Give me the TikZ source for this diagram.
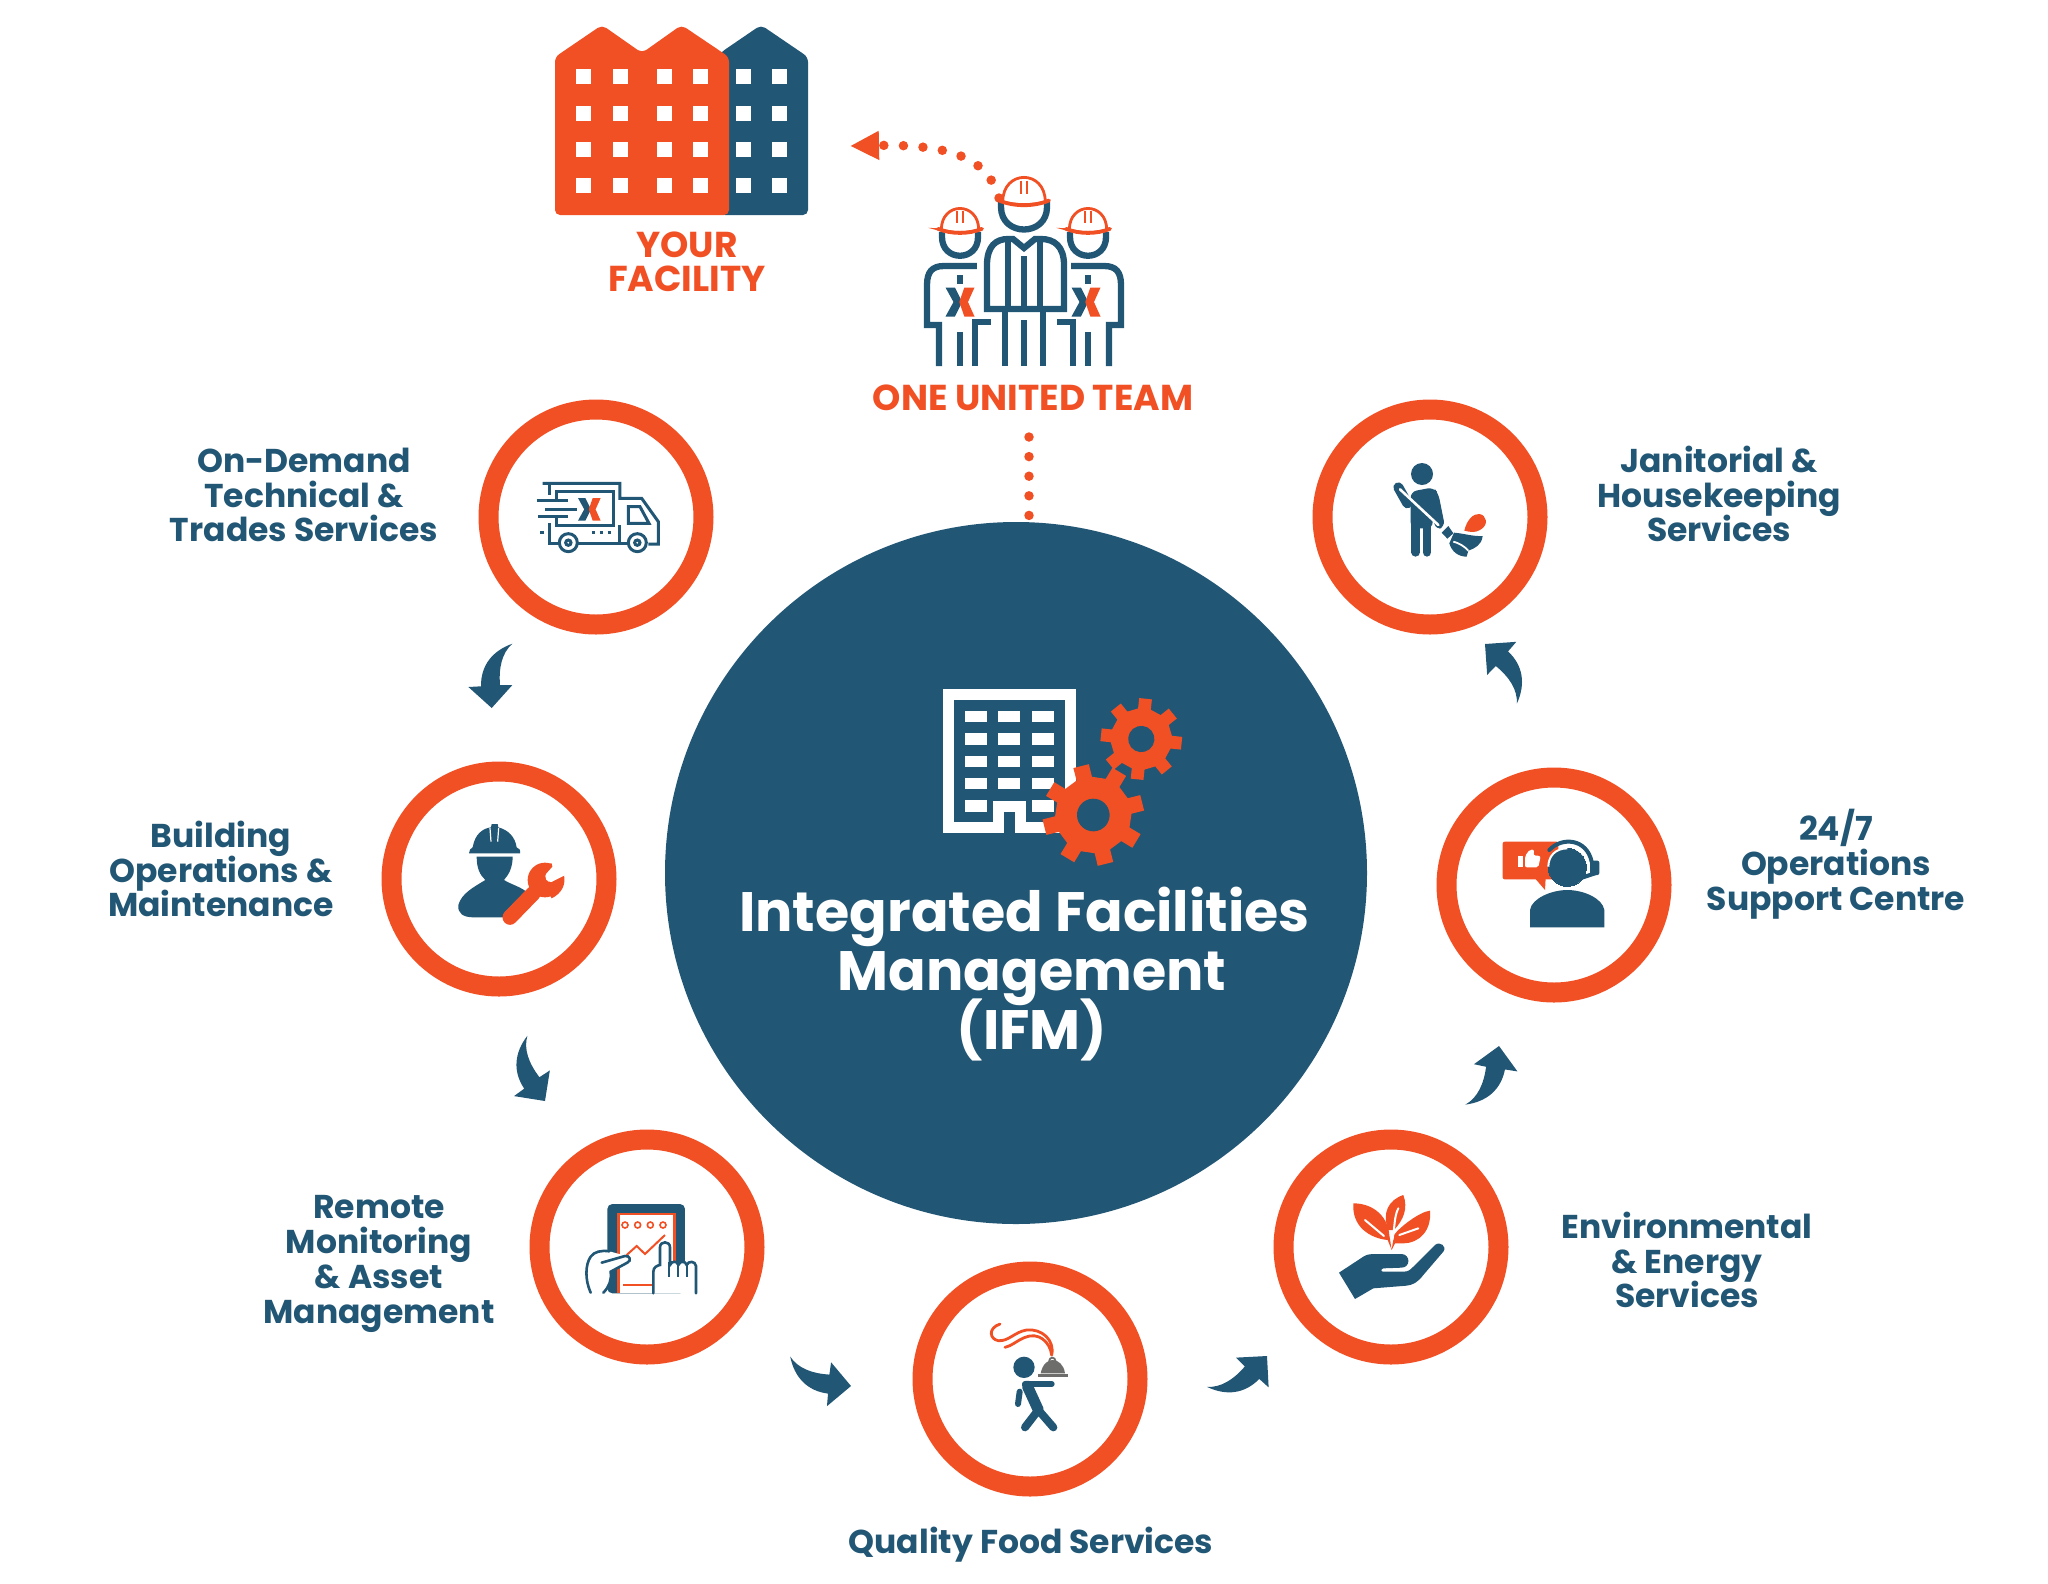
\documentclass[tikz,border=0pt]{standalone}
\usepackage{fontspec}
\setmainfont{Poppins}
\usetikzlibrary{arrows.meta}
\definecolor{ifmblue}{HTML}{215674}
\definecolor{ifmorange}{HTML}{F15025}
\definecolor{ifmgrey}{HTML}{6D6E6C}
\newcommand{\tightlines}{\lineskiplimit=-100pt\relax}
\tikzset{
  crop/.style={x=0.3333pt,y=-0.3333pt},
  hub/.style={
    circle,
    fill=ifmblue,
    minimum size=702pt,
    inner sep=0pt,
  },
  ring/.style={
    circle,
    draw=ifmorange,
    fill=white,
    line width=20pt,
    minimum size=215pt,
    inner sep=0pt,
  },
  svclabel/.style={
    align=center,
    text=ifmblue,
    inner sep=0pt,
    font=\fontsize{33}{34.8}\selectfont\bfseries\tightlines,
  },
  teamlabel/.style={
    align=center,
    text=ifmorange,
    inner sep=0pt,
    font=\fontsize{36}{34.5}\selectfont\bfseries\tightlines,
  },
  dotline/.style={
    draw=ifmorange,
    line width=9.5pt,
    line cap=round,
    dash pattern=on 0pt off 19.6pt,
  },
  teamline/.style={draw=ifmblue,line width=6.3pt},
  pics/turnarrow/.style={code={
    \fill[ifmblue] (20.7,-64.3) .. controls (0,-57) and (-11,-42) .. (-10.7,-21.7)
      -- (-23.3,-21) -- (0,0) -- (20.7,-23) -- (8.3,-23)
      .. controls (7,-40) and (10,-55) .. cycle;
  }},
  pics/xlogo/.style={code={
    \fill[ifmblue] (-1,-1) -- (-.35,-1) -- (.15,0) -- (-.35,1) -- (-1,1) -- (-.45,0) -- cycle;
    \fill[ifmorange] (.3,-1) -- (1,-1) -- (.55,0) -- (1,1) -- (.3,1) -- (-.05,0) -- cycle;
  }},
  pics/helmet/.style={code={
    \draw[ifmorange,line width=2.8pt,fill=white] (-17,-1) .. controls (-17,-27) and (17,-27) .. (17,-1)
      .. controls (8,2) and (-8,2) .. cycle;
    \draw[ifmorange,line width=3.8pt,line cap=round] (-20,-2) .. controls (-8,3) and (8,3) .. (20,-2);
    \draw[ifmorange,line width=2pt] (-2.5,-18) -- (-2.5,-7) (2.5,-18) -- (2.5,-7);
  }},
  pics/sideman/.style={code={
    \draw[teamline] (-18,232) -- (-18,237) .. controls (-18,262) and (18,262) .. (18,237) -- (18,232);
    \draw[teamline] (16.8,266) -- (-16,266) .. controls (-28,266) and (-33,272) .. (-33,285)
      -- (-33,325) -- (-21,325) -- (-21,366);
    \draw[teamline] (15,366) -- (15,322) -- (31,322);
    \draw[teamline] (0,332) -- (0,366);
    \draw[teamline] (0,275) -- (0,284);
  }},
  pics/gearwheel/.style={code={
    \fill[ifmorange] (-12:.75) foreach \a in {0,45,...,315} {
      -- (\a-12:.75) -- (\a-9:1) -- (\a+9:1) -- (\a+12:.75) -- (\a+33:.75)} -- cycle;
    \fill[ifmblue] (0,0) circle (.32);
  }},
}
\begin{document}
\begin{tikzpicture}[x=1pt,y=-1pt]
\useasboundingbox (0,0) rectangle (2048,1583);

\node[hub] (ifm) at (1016,873) {};
\node[ring] (demand) at (596,517) {};
\node[ring] (building) at (499,879) {};
\node[ring] (remote) at (647,1247) {};
\node[ring] (food) at (1030,1379) {};
\node[ring] (energy) at (1391,1247) {};
\node[ring] (support) at (1554,885) {};
\node[ring] (janitor) at (1430,517) {};

\node[svclabel] (demandtext) at (304,495) {On-Demand\\Technical \&\\Trades Services};
\node[svclabel] (buildingtext) at (221,869) {Building\\Operations \&\\Maintenance};
\node[svclabel] (remotetext) at (379,1264) {Remote\\Monitoring\\\& Asset\\Management};
\node[svclabel] (foodtext) at (1031,1545) {Quality Food Services};
\node[svclabel] (energytext) at (1687,1260) {Environmental\\\& Energy\\Services};
\node[svclabel] (supporttext) at (1836,864) {24/7\\Operations\\Support Centre};
\node[svclabel] (janitortext) at (1719,494) {Janitorial \&\\Housekeeping\\Services};

\node[align=center,text=white,inner sep=0pt,font=\fontsize{55.5}{58.7}\selectfont\bfseries\tightlines]
  (ifmtext) at (1032,974) {Integrated Facilities\hspace*{15pt}\\Management\\(IFM)};
\node[teamlabel] (facilitytext) at (687,262) {YOUR\\FACILITY};
\node[teamlabel] (teamtext) at (1033,398) {ONE UNITED TEAM};

\pic at (491.7,708) {turnarrow};
\pic[rotate=33] at (545,1101) {turnarrow};
\pic[rotate=82] at (851,1386) {turnarrow};
\pic[rotate=135] at (1267,1356) {turnarrow};
\pic[rotate=168] at (1499,1046) {turnarrow};
\pic[rotate=226] at (1485,644) {turnarrow};

\coordinate (teamdot) at (999,198);
\coordinate (factip) at (850,146);
\coordinate (teamfoot) at (1029,437);
\coordinate (hubtop) at (1029,516);
\draw[dotline,-{Triangle[length=29pt,width=27pt]}] (teamdot) .. controls (988,158) and (950,144) .. (factip);
\draw[dotline] (teamfoot) -- (hubtop);

\fill[ifmblue,rounded corners=5pt] (720,215) -- (720,53) -- (761,25) -- (808,57) -- (808,215) -- cycle;
\fill[ifmorange,rounded corners=5pt] (555,215) -- (555,57) -- (602,25) -- (642,53) -- (681.5,25) -- (729,57) -- (729,215) -- cycle;
\foreach \px in {576,613,656.5,692.5,736,772}
  \foreach \py in {69,106,142,178}
    \fill[white] (\px,\py) rectangle ++(15,15);

\pic at (960,0) {sideman};
\pic[xscale=-1] at (1088,0) {sideman};
\draw[teamline] (1001,200) -- (1001,207) .. controls (1001,237) and (1047,237) .. (1047,207) -- (1047,200);
\draw[teamline] (987,309) -- (987,265) .. controls (987,246) and (996,239) .. (1008,239) -- (1013,239) -- (1024,248)
  -- (1035,239) -- (1041,239) .. controls (1054,239) and (1064,246) .. (1064,265) -- (1064,309) -- cycle;
\draw[teamline] (1008,240) -- (1008,306);
\draw[teamline] (1040,240) -- (1040,306);
\draw[teamline] (1024,256) -- (1024,306);
\draw[teamline] (1005,306) -- (1005,366);
\draw[teamline] (1043,306) -- (1043,366);
\draw[teamline] (1024,320) -- (1024,366);
\pic[scale=1.1] at (960,231) {helmet};
\pic[scale=1.1] at (1088,231) {helmet};
\pic[scale=1.25] at (1024,203) {helmet};
\pic[scale=14.5] at (960,302) {xlogo};
\pic[scale=14.5] at (1086,302) {xlogo};

\draw[white,line width=11pt] (998.5,827.5) -- (948.5,827.5) -- (948.5,694.5) -- (1070.5,694.5)
  -- (1070.5,827.5) -- (1020.5,827.5) -- (1020.5,806) -- (998.5,806) -- cycle;
\foreach \px in {965,998,1032}
  \foreach \py in {711,733.3,755.7,778}
    \fill[white] (\px,\py) rectangle ++(22.3,11.3);
\fill[white] (965,800.3) rectangle ++(22.3,11.3);
\fill[white] (1032,800.3) rectangle ++(22.3,11.3);
\pic[scale=51,rotate=14] at (1093.3,815) {gearwheel};
\pic[scale=41,rotate=39] at (1141.3,739) {gearwheel};

\begin{scope}[shift={(500,460)},crop]
  \draw[ifmblue,line width=3pt] (128,70) -- (360,70) -- (360,115) -- (425,115) -- (475,185) -- (475,252) -- (445,252);
  \draw[ifmblue,line width=3pt] (148,70) -- (148,105);
  \draw[ifmblue,line width=3pt] (170,125) -- (170,95) -- (340,95) -- (340,195) -- (170,195) -- (170,165);
  \draw[ifmblue,line width=3pt] (110,122) -- (205,122) (135,147) -- (230,147) (115,170) -- (205,170);
  \draw[ifmblue,line width=3pt] (148,190) -- (148,250) -- (175,250) (235,250) -- (382,250) (360,195) -- (360,250);
  \draw[ifmblue,line width=3pt] (385,140) -- (420,140) -- (447,190) -- (385,190) -- cycle;
  \draw[ifmblue,line width=3pt,dash pattern=on 3pt off 5pt] (275,218) -- (335,218);
  \draw[ifmblue,line width=3pt] (120,218) -- (132,218);
  \draw[ifmblue,line width=3pt] (205,248) circle (27) (412,248) circle (27);
  \draw[ifmblue,line width=3pt] (205,248) circle (8) (412,248) circle (8);
  \pic[scale=34] at (268,148) {xlogo};
\end{scope}

\begin{scope}[shift={(430,800)},crop]
  \fill[ifmblue] (117,160) .. controls (117,150) and (122,145) .. (128,142) .. controls (135,100) and (160,85) .. (183,82)
    -- (185,72) -- (203,72) -- (205,82) .. controls (235,90) and (255,110) .. (260,142) .. controls (268,145) and (272,150) .. (270,160) -- cycle;
  \draw[white,line width=1.2pt] (180,84) -- (183,125) (206,84) -- (203,125);
  \fill[ifmblue] (140,170) -- (248,170) .. controls (248,205) and (235,225) .. (222,240)
    .. controls (250,258) and (290,262) .. (310,300) -- (260,352) -- (130,352) .. controls (100,352) and (82,340) .. (85,315)
    .. controls (95,280) and (130,262) .. (166,240) .. controls (150,225) and (140,205) .. (140,170) -- cycle;
  \draw[white,line width=14pt,line cap=round] (240,352) -- (310,280);
  \draw[ifmorange,line width=15pt,line cap=round] (240,352) -- (310,280);
  \fill[ifmorange] (345,240) circle (52);
  \fill[ifmorange] (388,232) -- (402,225) .. controls (408,255) and (395,280) .. (365,295) -- (345,260) -- cycle;
  \fill[white] (346,228) -- (362,183) -- (412,222) -- (376,240) .. controls (362,252) and (346,245) .. cycle;
  \fill[ifmorange] (340,192) -- (365,190) -- (367,200) -- (342,228) -- cycle;
\end{scope}

\begin{scope}[shift={(570,1190)},crop]
  \fill[ifmblue,rounded corners=5pt] (112,310) -- (112,42) -- (345,42) -- (345,310) -- cycle;
  \fill[white] (140,68) rectangle (318,310);
  \draw[ifmorange,line width=2.4pt] (145,310) -- (145,72) -- (314,72) -- (314,230);
  \draw[ifmorange,line width=1.6pt] (165,105) circle (9) (203,105) circle (9) (241,105) circle (9) (279,105) circle (9);
  \draw[ifmorange,line width=2pt] (170,195) -- (200,168) -- (225,192) -- (285,135);
  \draw[ifmorange,line width=2pt] (160,285) -- (245,285);
  \fill[white] (62,308) .. controls (45,270) and (45,225) .. (62,200) .. controls (72,185) and (95,180) .. (118,184)
    -- (170,198) -- (178,212) -- (122,245) .. controls (125,270) and (118,290) .. (100,308) -- cycle;
  \draw[ifmblue,line width=2.6pt,line cap=round] (62,308) .. controls (45,270) and (45,225) .. (62,200)
    .. controls (72,185) and (95,180) .. (118,184);
  \draw[ifmblue,line width=2.6pt,line cap=round] (95,218) -- (165,198) .. controls (180,196) and (185,212) .. (172,218)
    -- (122,245) .. controls (125,270) and (118,290) .. (100,308);
  \draw[ifmblue,fill=white,line width=2.6pt,line cap=round] (250,310) -- (250,245) .. controls (250,232) and (262,226) .. (270,225)
    -- (270,172) .. controls (270,152) and (300,152) .. (300,172) -- (300,225) .. controls (305,212) and (322,212) .. (325,225)
    .. controls (330,212) and (346,212) .. (350,225) .. controls (355,212) and (376,212) .. (378,228) -- (378,310);
  \draw[ifmblue,line width=2.2pt] (298,215) -- (298,260) (325,225) -- (325,260) (350,225) -- (350,260);
\end{scope}

\begin{scope}[shift={(970,1310)},crop]
  \draw[ifmorange,line width=2.8pt,line cap=round] (245,135) .. controls (255,90) and (215,55) .. (170,60)
    .. controls (135,65) and (115,95) .. (85,92) .. controls (60,88) and (52,55) .. (90,42);
  \draw[ifmorange,line width=2.8pt,line cap=round] (245,135) .. controls (240,95) and (205,65) .. (165,82) .. controls (140,92) and (125,108) .. (105,112);
  \fill[ifmgrey] (203,192) rectangle (293,202);
  \fill[ifmgrey] (212,190) .. controls (218,160) and (235,150) .. (248,150) .. controls (265,150) and (282,165) .. (285,190) -- cycle;
  \draw[ifmgrey,line width=1.8pt] (247,152) circle (9);
  \fill[ifmblue] (162,172) circle (32);
  \draw[ifmblue,line width=6pt,line cap=round] (165,222) -- (245,222);
  \draw[ifmblue,line width=11pt,line cap=round,line join=round] (172,228) -- (205,300);
  \draw[ifmblue,line width=8pt,line cap=round,line join=round] (165,352) -- (205,300) -- (250,352);
  \draw[ifmblue,line width=6pt,line cap=round] (149,245) -- (144,282);
\end{scope}

\begin{scope}[shift={(1320,1180)},crop]
  \fill[ifmblue] (57,278) -- (130,230) .. controls (140,224) and (148,222) .. (158,222) -- (245,222)
    .. controls (272,224) and (272,262) .. (245,263) -- (190,265) .. controls (182,268) and (182,275) .. (190,275)
    -- (250,275) .. controls (265,275) and (270,270) .. (280,260) -- (345,195) .. controls (360,182) and (382,200) .. (370,215)
    -- (310,285) .. controls (295,305) and (280,315) .. (260,317) -- (160,325) -- (105,357) -- cycle;
  \fill[ifmorange] (100,70) .. controls (165,70) and (205,115) .. (208,165) -- (215,210) -- (222,165)
    .. controls (240,140) and (300,95) .. (330,92) .. controls (335,150) and (300,190) .. (248,190)
    -- (225,190) -- (215,210) -- (203,180) .. controls (150,175) and (95,140) .. (100,70) -- cycle;
  \fill[ifmorange] (250,45) .. controls (205,60) and (185,100) .. (205,150) -- (222,150)
    .. controls (250,120) and (265,85) .. (250,45) -- cycle;
  \draw[white,line width=2pt,line cap=round] (135,120) -- (192,168) (295,145) -- (238,165) (235,85) .. controls (222,110) and (225,140) .. (217,180);
\end{scope}

\begin{scope}[shift={(1370,450)},crop]
  \fill[ifmblue] (156,72) circle (33);
  \draw[ifmblue,line width=8.6pt,line cap=round] (137,225) -- (137,307) (171,225) -- (171,307);
  \fill[ifmblue,rounded corners=6pt] (122,235) -- (122,125) -- (190,112) -- (205,130) -- (225,230) -- (198,240) -- (188,200) -- (188,235) -- cycle;
  \draw[ifmblue,line width=10pt,line cap=round] (85,112) -- (112,160);
  \draw[white,line width=2.6pt,line cap=round] (90,118) -- (205,225);
  \fill[ifmblue] (215,248) -- (235,228) -- (250,250) -- (232,266) -- cycle;
  \fill[ifmblue] (252,248) .. controls (280,250) and (310,260) .. (338,258) .. controls (335,285) and (315,295) .. (295,302)
    -- (290,320) .. controls (265,320) and (245,305) .. (238,280) -- cycle;
  \draw[white,line width=1.8pt] (250,275) .. controls (265,278) and (285,290) .. (295,302);
  \fill[ifmorange] (283,242) .. controls (290,210) and (310,190) .. (328,192) .. controls (350,195) and (358,225) .. (330,240)
    .. controls (315,250) and (295,245) .. cycle;
\end{scope}

\begin{scope}[shift={(1480,820)},crop]
  \fill[ifmorange,rounded corners=2pt] (68,65) rectangle (235,178);
  \fill[ifmorange] (165,175) -- (195,210) -- (197,175) -- cycle;
  \fill[white] (115,108) rectangle (130,142);
  \fill[white,rounded corners=2pt] (135,108) -- (150,88) -- (163,90) -- (160,106) -- (182,108) -- (175,142) -- (135,142) -- cycle;
  \draw[ifmblue,fill=ifmblue,line width=0pt] (262,142) circle (57);
  \draw[white,line width=2pt] (205,140) .. controls (205,110) and (225,85) .. (262,85);
  \draw[ifmblue,line width=4pt,line cap=round] (208,90) .. controls (245,50) and (320,55) .. (335,125);
  \draw[ifmblue,line width=4pt,line cap=round] (345,160) -- (285,180);
  \fill[ifmblue,rounded corners=2pt] (330,122) rectangle (358,165);
  \fill[ifmblue] (150,322) -- (150,270) .. controls (155,235) and (215,210) .. (262,210) .. controls (310,210) and (368,235) .. (373,270) -- (373,322) -- cycle;
\end{scope}
\end{tikzpicture}
\end{document}
